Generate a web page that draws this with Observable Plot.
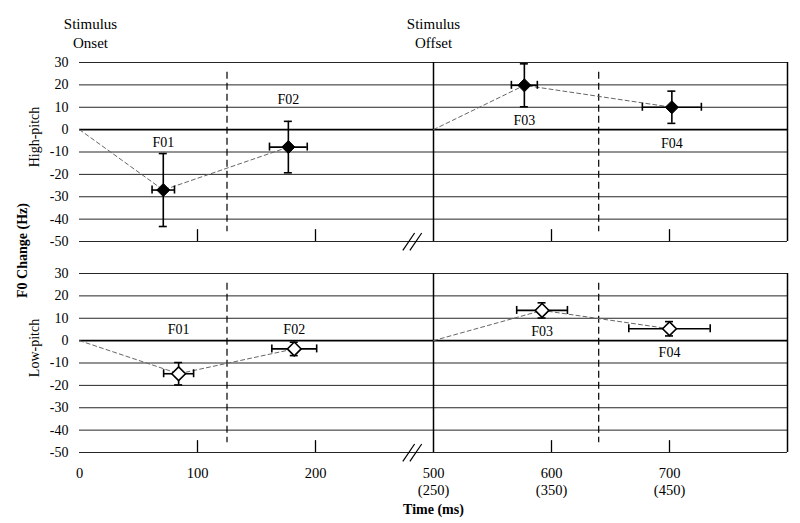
<!DOCTYPE html>
<html>
<head>
<meta charset="utf-8">
<script src="https://cdn.jsdelivr.net/npm/d3@7"></script>
<script src="https://cdn.jsdelivr.net/npm/@observablehq/plot@0.6"></script>
<style>
  html, body { margin: 0; padding: 0; background: #fff; }
  #chart { width: 800px; height: 523px; }
</style>
</head>
<body>
<div id="chart"></div>
<script>
// ---- data (time in ms, F0 change in Hz) ----
const panels = ["High-pitch", "Low-pitch"];
const formants = ["F01", "F02", "F03", "F04"];

const highTime = [71, 177, 577, 702];
const highTimeErr = [9.5, 16, 11, 25];
const highF0 = [-27, -7.8, 19.8, 10];
const highF0Err = [16.3, 11.5, 9.6, 7.2];
const highLabelF0 = [-5.6, 13.6, 4.2, -6.4];

const lowTime = [84, 182, 592, 700];
const lowTimeErr = [12.7, 19, 21.5, 34.5];
const lowF0 = [-14.8, -3.7, 13.5, 5.3];
const lowF0Err = [5, 3, 3.4, 3.2];
const lowLabelF0 = [4.9, 4.9, 3.9, -5.5];

const stimulusTimes = [0, 500];
const stimulusLabels = ["Stimulus\nOnset", "Stimulus\nOffset"];
const segmentBounds = [125, 640];
const axisEnd = 800;
const xTickValues = [0, 100, 200, 500, 600, 700];
const xTickLabels = ["0", "100", "200", "500\n(250)", "600\n(350)", "700\n(450)"];
const yTickValues = [-50, -40, -30, -20, -10, 0, 10, 20, 30];
const breakGlyph = [{t0: 274, t1: 284}, {t0: 280, t1: 290}];

// broken time axis: 300–500 ms is cut out
const gapStart = 300, gapEnd = 500;
const cut = t => (t >= gapEnd ? t - (gapEnd - gapStart) : t);

// ---- tables ----
function rowsFor(panel, T, TE, F, FE, L) {
  return formants.map((f, i) => ({panel, formant: f, t: T[i], tErr: TE[i], f0: F[i], f0Err: FE[i], labelF0: L[i]}));
}
const highRows = rowsFor("High-pitch", highTime, highTimeErr, highF0, highF0Err, highLabelF0);
const lowRows = rowsFor("Low-pitch", lowTime, lowTimeErr, lowF0, lowF0Err, lowLabelF0);
const rows = highRows.concat(lowRows);

const connectRows = [];
for (const [panel, R] of [["High-pitch", highRows], ["Low-pitch", lowRows]]) {
  connectRows.push({panel, seg: panel + "-on", t: stimulusTimes[0], f0: 0});
  connectRows.push({panel, seg: panel + "-on", t: R[0].t, f0: R[0].f0});
  connectRows.push({panel, seg: panel + "-on", t: R[1].t, f0: R[1].f0});
  connectRows.push({panel, seg: panel + "-off", t: stimulusTimes[1], f0: 0});
  connectRows.push({panel, seg: panel + "-off", t: R[2].t, f0: R[2].f0});
  connectRows.push({panel, seg: panel + "-off", t: R[3].t, f0: R[3].f0});
}

const ink = "#000";
const capInset = -4;

const chart = Plot.plot({
  width: 800,
  height: 523,
  marginLeft: 79,
  marginRight: 13,
  marginTop: 62,
  marginBottom: 70,
  style: {fontFamily: "'Liberation Serif', 'Times New Roman', serif", fontSize: "14px", color: "#000", background: "#fff"},
  x: {domain: [0, cut(axisEnd)], axis: null},
  y: {domain: [-50, 30], ticks: yTickValues, tickSize: 0, tickPadding: 11, tickFormat: d => String(d), label: null, fontSize: 14.5},
  fy: {domain: panels, axis: null, paddingInner: 0.151, paddingOuter: 0, label: null},
  marks: [
    // grid
    Plot.ruleY(yTickValues.filter(v => v !== 0), {stroke: "#262626", strokeWidth: 1}),
    Plot.ruleY([0], {stroke: ink, strokeWidth: 1.8}),
    Plot.ruleX([gapEnd, axisEnd], {x: d => cut(d), stroke: ink, strokeWidth: 1.5}),
    Plot.ruleX(xTickValues.filter(v => v !== 0 && v !== gapEnd), {x: d => cut(d), y1: -50, y2: -44.7, stroke: ink, strokeWidth: 1.3}),
    Plot.ruleX(segmentBounds, {x: d => cut(d), y1: 25.6, y2: -45.6, stroke: ink, strokeWidth: 1.2, strokeDasharray: "7,4"}),
    Plot.link(breakGlyph, {x1: d => cut(d.t0), x2: d => cut(d.t1), y1: -54, y2: -46.2, stroke: ink, strokeWidth: 1.2}),
    // connecting dashed lines
    Plot.line(connectRows, {x: d => cut(d.t), y: "f0", z: "seg", fy: "panel", stroke: "#666", strokeWidth: 1, strokeDasharray: "4,3"}),
    // vertical error bars + caps
    Plot.ruleX(rows, {x: d => cut(d.t), y1: d => d.f0 - d.f0Err, y2: d => d.f0 + d.f0Err, fy: "panel", stroke: ink, strokeWidth: 1.6}),
    Plot.ruleY(rows, {y: d => d.f0 + d.f0Err, x1: d => cut(d.t), x2: d => cut(d.t), insetLeft: capInset, insetRight: capInset, fy: "panel", stroke: ink, strokeWidth: 1.6}),
    Plot.ruleY(rows, {y: d => d.f0 - d.f0Err, x1: d => cut(d.t), x2: d => cut(d.t), insetLeft: capInset, insetRight: capInset, fy: "panel", stroke: ink, strokeWidth: 1.6}),
    // horizontal error bars + caps
    Plot.ruleY(rows, {y: "f0", x1: d => cut(d.t - d.tErr), x2: d => cut(d.t + d.tErr), fy: "panel", stroke: ink, strokeWidth: 1.6}),
    Plot.ruleX(rows, {x: d => cut(d.t - d.tErr), y1: "f0", y2: "f0", insetTop: capInset, insetBottom: capInset, fy: "panel", stroke: ink, strokeWidth: 1.6}),
    Plot.ruleX(rows, {x: d => cut(d.t + d.tErr), y1: "f0", y2: "f0", insetTop: capInset, insetBottom: capInset, fy: "panel", stroke: ink, strokeWidth: 1.6}),
    // markers
    Plot.dot(highRows, {x: d => cut(d.t), y: "f0", fy: "panel", symbol: "diamond2", r: 5.9, fill: ink, stroke: ink, strokeWidth: 1}),
    Plot.dot(lowRows, {x: d => cut(d.t), y: "f0", fy: "panel", symbol: "diamond2", r: 6.2, fill: "#fff", stroke: ink, strokeWidth: 1.6}),
    // formant labels
    Plot.text(rows, {x: d => cut(d.t), y: "labelF0", text: "formant", fy: "panel", fontSize: 14}),
    // panel labels
    Plot.text(panels, {fy: d => d, text: d => d, frameAnchor: "left", textAnchor: "middle", lineAnchor: "middle", rotate: -90, dx: -45, dy: -15, fontSize: 14}),
    Plot.text(["F0 Change (Hz)"], {fy: () => "High-pitch", text: d => d, frameAnchor: "bottom-left", textAnchor: "middle", lineAnchor: "middle", rotate: -90, dx: -57, dy: 9, fontWeight: "bold", fontSize: 14}),
    // stimulus labels
    Plot.text([stimulusTimes[0]], {x: d => cut(d), y: 30, text: () => stimulusLabels[0], fy: () => "High-pitch", lineAnchor: "middle", dx: 11, dy: -30, lineHeight: 1.25, fontSize: 15}),
    Plot.text([stimulusTimes[1]], {x: d => cut(d), y: 30, text: () => stimulusLabels[1], fy: () => "High-pitch", lineAnchor: "middle", dy: -30, lineHeight: 1.25, fontSize: 15}),
    // x tick labels & title
    Plot.text(xTickValues, {x: d => cut(d), y: -50, text: (d, i) => xTickLabels[i], fy: () => "Low-pitch", lineAnchor: "top", dy: 13, lineHeight: 1.2, fontSize: 14.5}),
    Plot.text([gapEnd], {x: d => cut(d), y: -50, text: () => "Time (ms)", fy: () => "Low-pitch", dy: 57, fontWeight: "bold", fontSize: 14})
  ]
});
document.getElementById("chart").appendChild(chart);
</script>
</body>
</html>
